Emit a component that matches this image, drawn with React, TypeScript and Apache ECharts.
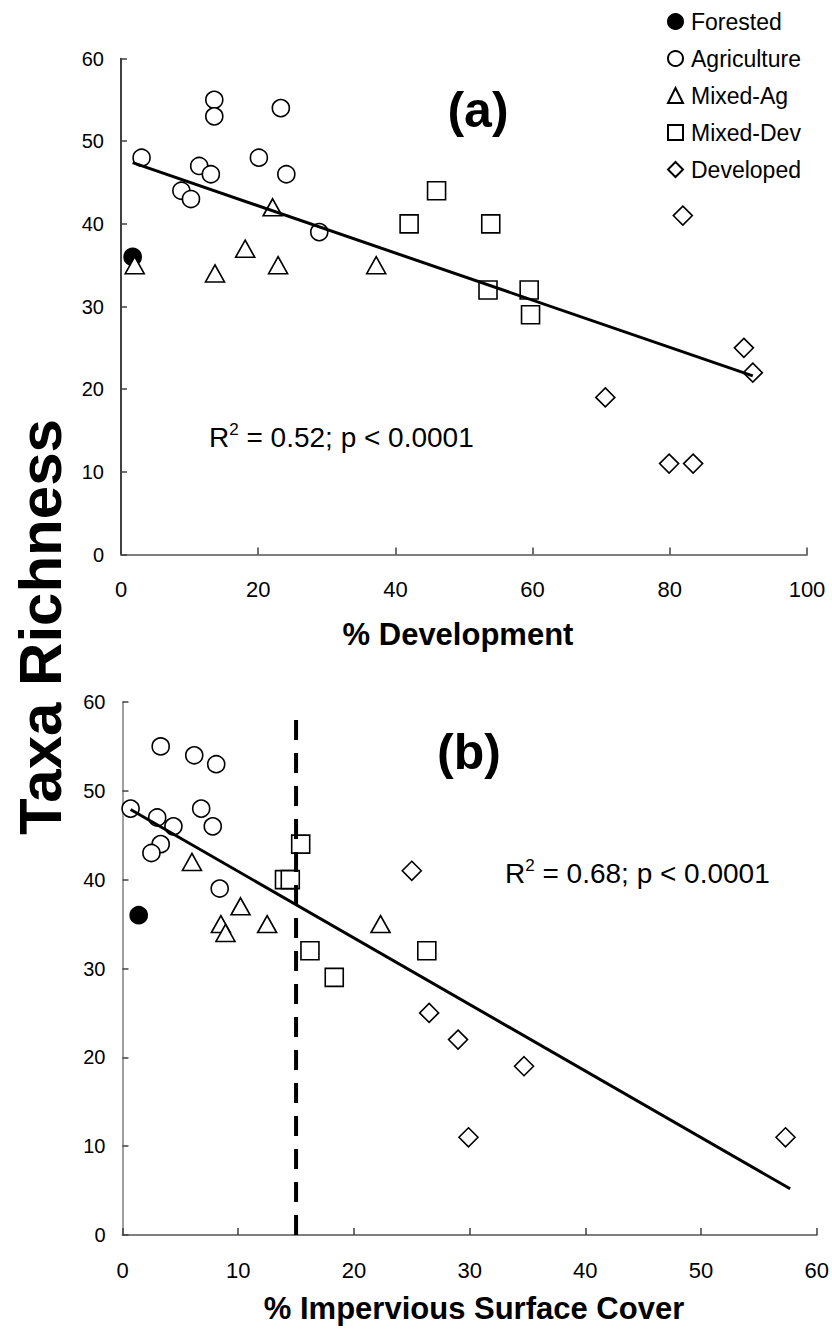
import { useEffect, useRef } from "react";
import * as echarts from "echarts";

const FONT = "'Liberation Sans', Arial, Helvetica, sans-serif";

// Legend / land-use classes
const classNames = ["Forested", "Agriculture", "Mixed-Ag", "Mixed-Dev", "Developed"];
const classSymbols = ["circle", "circle", "triangle", "rect", "diamond"];
const classSizes: (number | number[])[] = [17, 17, [19, 17], 18, 19];
const classFilled = [true, false, false, false, false];

// Panel (a): % development vs taxa richness
const forestedA = [[1.7, 36]];
const agricultureA = [
  [3.0, 48], [13.6, 55], [13.6, 53], [11.4, 47], [13.1, 46], [8.8, 44],
  [10.2, 43], [20.1, 48], [23.3, 54], [24.1, 46], [28.9, 39],
];
const mixedAgA = [[2.0, 35], [13.7, 34], [18.1, 37], [22.1, 42], [22.9, 35], [37.2, 35]];
const mixedDevA = [[42.0, 40], [46.0, 44], [53.9, 40], [53.5, 32], [59.5, 32], [59.7, 29]];
const developedA = [[81.9, 41], [90.8, 25], [92.1, 22], [70.6, 19], [79.9, 11], [83.4, 11]];
const fitA = [[1.7, 47.4], [92.1, 21.6]];

// Panel (b): % impervious surface cover vs taxa richness
const forestedB = [[1.4, 36]];
const agricultureB = [
  [0.7, 48], [3.3, 55], [6.2, 54], [8.1, 53], [3.0, 47], [4.4, 46],
  [6.8, 48], [7.8, 46], [3.3, 44], [2.5, 43], [8.4, 39],
];
const mixedAgB = [[6.0, 42], [10.2, 37], [8.5, 35], [8.9, 34], [12.5, 35], [22.3, 35]];
const mixedDevB = [[15.4, 44], [14.0, 40], [14.5, 40], [16.2, 32], [26.3, 32], [18.3, 29]];
const developedB = [[25.0, 41], [26.5, 25], [29.0, 22], [34.7, 19], [29.9, 11], [57.3, 11]];
const fitB = [[0.7, 47.9], [57.7, 5.2]];
const thresholdB = [[15, 0], [15, 59]];

const panelA = [forestedA, agricultureA, mixedAgA, mixedDevA, developedA];
const panelB = [forestedB, agricultureB, mixedAgB, mixedDevB, developedB];

// Axis ranges
const yTicks = { min: 0, max: 60, interval: 10 };
const xTicksA = { min: 0, max: 100, interval: 20 };
const xTicksB = { min: 0, max: 60, interval: 10 };

const statsA = "0.52; p < 0.0001";
const statsB = "0.68; p < 0.0001";

function scatterSeries(panel: number[][][], axisIndex: number) {
  return panel.map((data, i) => ({
    type: "scatter",
    name: classNames[i],
    xAxisIndex: axisIndex,
    yAxisIndex: axisIndex,
    data,
    symbol: classSymbols[i],
    symbolSize: classSizes[i],
    z: 2,
    itemStyle: {
      color: classFilled[i] ? "#000" : "#fff",
      borderColor: "#000",
      borderWidth: 1.6,
      opacity: 1,
    },
  }));
}

function xAxis(gridIndex: number, ticks: { min: number; max: number; interval: number }) {
  return {
    type: "value",
    gridIndex,
    ...ticks,
    axisLine: { show: true, onZero: false, lineStyle: { color: "#7f7f7f", width: 2 } },
    axisTick: { show: true, inside: true, length: 7, lineStyle: { color: "#404040", width: 1.5 } },
    axisLabel: { fontSize: 22, fontFamily: FONT, color: "#000", margin: 24 },
    splitLine: { show: false },
  };
}

function yAxis(gridIndex: number, lineColor: string) {
  return {
    type: "value",
    gridIndex,
    ...yTicks,
    axisLine: { show: true, onZero: false, lineStyle: { color: lineColor, width: 1.5 } },
    axisTick: { show: true, inside: true, length: 6, lineStyle: { color: "#404040", width: 1.5 } },
    axisLabel: { fontSize: 20, fontFamily: FONT, color: "#000", margin: 17 },
    splitLine: { show: false },
  };
}

function statsText(x: number, y: number, value: string) {
  return {
    type: "text",
    x,
    y,
    z: 10,
    style: {
      text: `{r|R}{s|2}{r| = ${value}}`,
      fill: "#000",
      verticalAlign: "middle",
      align: "left",
      rich: {
        r: { fontSize: 28, fontFamily: FONT, lineHeight: 32, fill: "#000" },
        s: { fontSize: 17, fontFamily: FONT, lineHeight: 20, verticalAlign: "top", fill: "#000" },
      },
    },
  };
}

function titleText(x: number, y: number, text: string, size: number, rotation = 0) {
  return {
    type: "text",
    x,
    y,
    rotation,
    z: 10,
    style: {
      text,
      fill: "#000",
      font: `bold ${size}px ${FONT}`,
      align: "center",
      verticalAlign: "middle",
    },
  };
}

export default function App() {
  const ref = useRef<HTMLDivElement>(null);

  useEffect(() => {
    if (!ref.current) return;
    const chart = echarts.init(ref.current, null, { renderer: "svg" });
    const lineStyle = { color: "#000", width: 3 };
    chart.setOption({
      animation: false,
      backgroundColor: "#fff",
      grid: [
        { left: 121, top: 58.5, width: 686, height: 496 },
        { left: 122.5, top: 702, width: 694.5, height: 533 },
      ],
      xAxis: [xAxis(0, xTicksA), xAxis(1, xTicksB)],
      yAxis: [yAxis(0, "#000"), yAxis(1, "#7f7f7f")],
      legend: {
        data: classNames,
        orient: "vertical",
        left: 662,
        top: 5,
        itemWidth: 15,
        itemHeight: 15,
        itemGap: 14,
        selectedMode: false,
        textStyle: { fontSize: 23, fontFamily: FONT, color: "#000", lineHeight: 23, padding: [0, 0, 0, 3] },
      },
      series: [
        ...scatterSeries(panelA, 0),
        ...scatterSeries(panelB, 1),
        {
          type: "line",
          name: "fitA",
          xAxisIndex: 0,
          yAxisIndex: 0,
          data: fitA,
          showSymbol: false,
          silent: true,
          z: 3,
          lineStyle,
        },
        {
          type: "line",
          name: "fitB",
          xAxisIndex: 1,
          yAxisIndex: 1,
          data: fitB,
          showSymbol: false,
          silent: true,
          z: 3,
          lineStyle,
        },
        {
          type: "line",
          name: "threshold",
          xAxisIndex: 1,
          yAxisIndex: 1,
          data: thresholdB,
          showSymbol: false,
          silent: true,
          z: 3,
          lineStyle: { color: "#000", width: 4, type: [20, 13] },
        },
      ],
      graphic: [
        titleText(478, 110, "(a)", 50),
        titleText(469, 752, "(b)", 50),
        statsText(209, 437, statsA),
        statsText(505, 873, statsB),
        titleText(458, 634, "% Development", 31),
        titleText(474, 1308, "% Impervious Surface Cover", 31),
        titleText(40, 627, "Taxa Richness", 60, Math.PI / 2),
      ],
    });
    return () => chart.dispose();
  }, []);

  return (
    <div
      ref={ref}
      style={{ position: "absolute", left: 0, top: 0, width: 832, height: 1330 }}
    />
  );
}
